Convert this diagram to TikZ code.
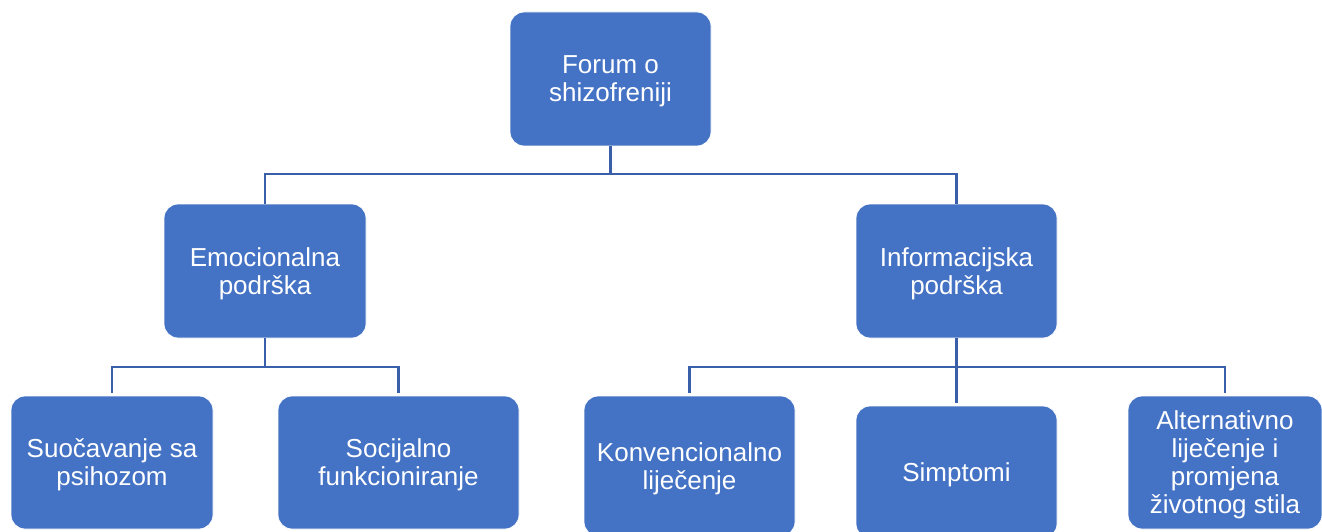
\documentclass[tikz,border=0pt]{standalone}
\usepackage{fontspec}
\setmainfont{Liberation Sans}
\definecolor{boxblue}{RGB}{68,114,196}
\definecolor{lineblue}{RGB}{58,95,170}
\newcommand{\hs}{\rule{0pt}{24pt}}
\newcommand{\ds}{\rule[-6pt]{0pt}{6pt}}
\tikzset{
  box/.style={rectangle, rounded corners=14pt, fill=boxblue, draw=white, line width=0.8pt,
    text=white, align=center, inner sep=0pt, font=\fontsize{26}{28}\selectfont},
  conn/.style={draw=lineblue, line width=2.6pt}
}
\begin{document}
\begin{tikzpicture}[x=1pt,y=-1pt]
\useasboundingbox (0,0) rectangle (1322,532);
\clip (0,0) rectangle (1322,532);
\node[box, minimum width=201pt, minimum height=134pt] (top) at (610.5,79) {\hs Forum o\\shizofreniji\ds};
\node[box, minimum width=202pt, minimum height=134pt] (emo) at (265,271) {\hs Emocionalna\\podrška\ds};
\node[box, minimum width=201pt, minimum height=134pt] (info) at (956.5,271) {\hs Informacijska\\podrška\ds};
\node[box, minimum width=202pt, minimum height=133pt] (suo) at (112,462.5) {\hs Suočavanje sa\\psihozom\ds};
\node[box, minimum width=241pt, minimum height=133pt] (soc) at (398.5,462.5) {\hs Socijalno\\funkcioniranje\ds};
\node[box, minimum width=211pt, minimum height=140pt] (konv) at (689.5,466) {\hs Konvencionalno\\liječenje\ds};
\node[box, minimum width=201pt, minimum height=132pt] (simp) at (956.5,472) {\hs Simptomi\ds};
\node[box, minimum width=194pt, minimum height=133pt] (alt) at (1225,462.5) {\hs Alternativno\\liječenje i\\promjena\\životnog stila\ds};
\coordinate (j1) at (610.5,174);
\coordinate (j2) at (265,367);
\coordinate (j3) at (956.5,367);
\draw[conn] (top.south) -- (j1);
\draw[conn] (emo.north) |- (j1) -| (info.north);
\draw[conn] (emo.south) -- (j2);
\draw[conn] ([yshift=3pt]suo.north) |- (j2) -| ([yshift=3pt]soc.north);
\draw[conn] (info.south) -- ([yshift=3pt]simp.north);
\draw[conn] ([yshift=3pt]konv.north) |- (j3) -| ([yshift=3pt]alt.north);
\end{tikzpicture}
\end{document}
